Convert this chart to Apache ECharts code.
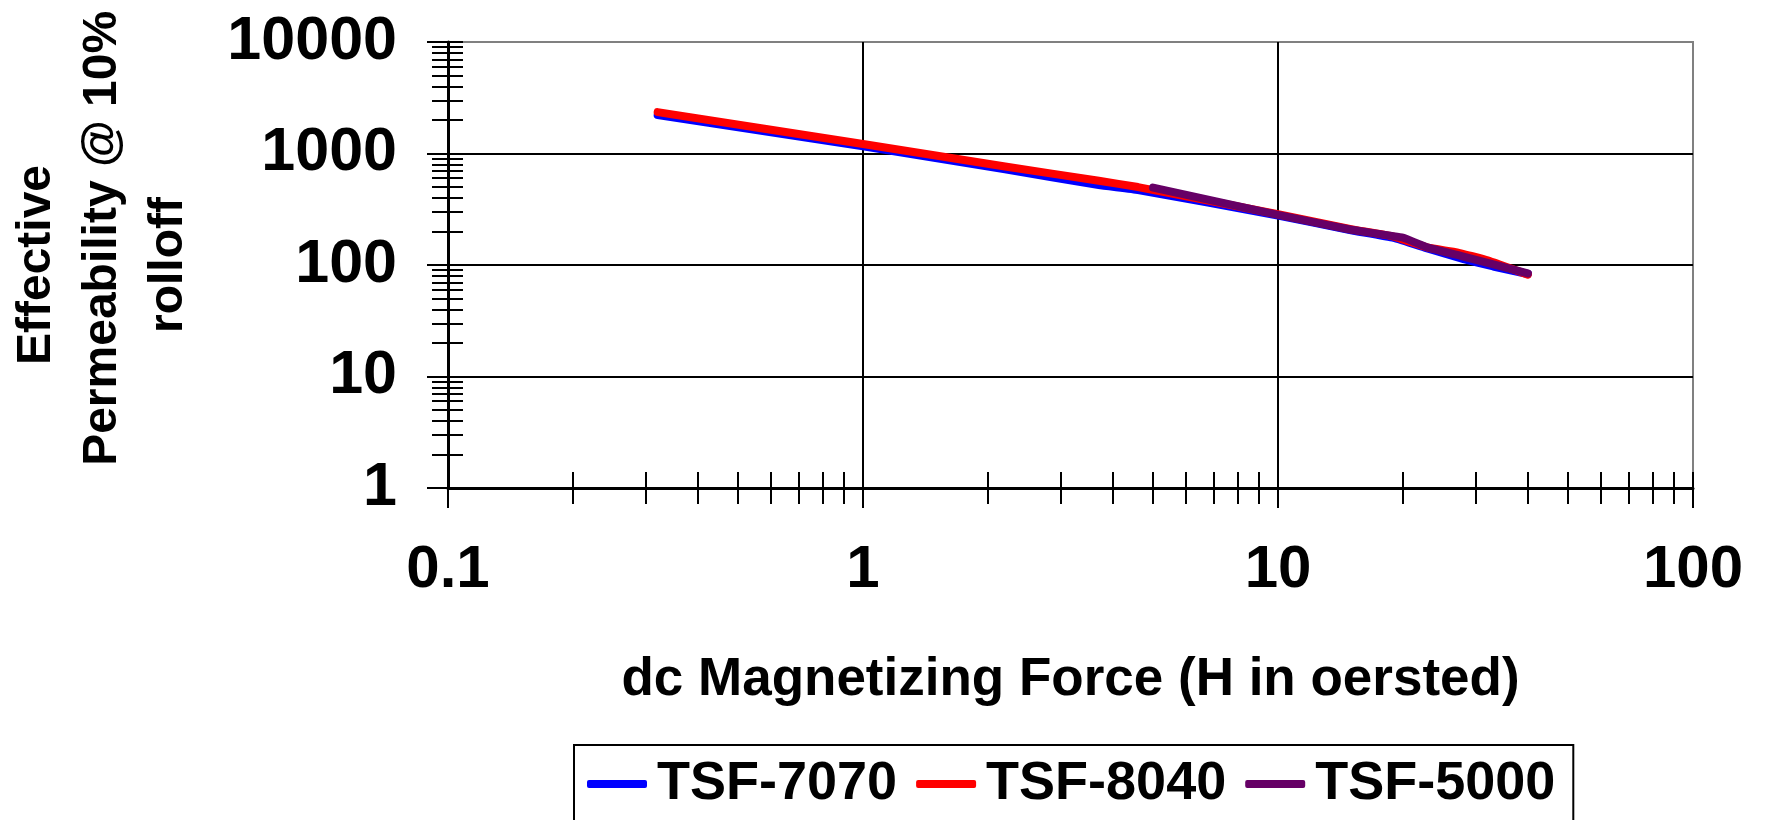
<!DOCTYPE html>
<html>
<head>
<meta charset="utf-8">
<title>Effective Permeability vs dc Magnetizing Force</title>
<script src="https://cdn.jsdelivr.net/npm/echarts@6/dist/echarts.min.js"></script>
<style>
  html, body { margin: 0; padding: 0; background: #fff; }
  #chart { width: 1766px; height: 820px; }
</style>
</head>
<body>
<div id="chart"></div>
<script>
// series data (H in oersted, effective permeability)
const seriesNames = ['TSF-7070', 'TSF-8040', 'TSF-5000']
const seriesColors = ['#0000ff', '#ff0000', '#660066']

const h7070 = [0.32, 1, 2.2, 3.7, 4.6, 10, 15, 19, 23, 28, 33, 40]
const mu7070 = [2210, 1160, 720, 520, 470, 278, 205, 175, 140, 113, 97, 83]

const h8040 = [0.32, 1, 2.2, 3.7, 4.6, 10, 15, 19, 23, 27, 32, 40]
const mu8040 = [2350, 1215, 765, 570, 500, 285, 210, 180, 143, 130, 110, 82]

const h5000 = [5, 10, 15, 20, 23, 28, 40]
const mu5000 = [495, 282, 207, 176, 143, 119, 84]

// axis ticks (majors + minors)
const xTicks = [0.1, 0.2, 0.3, 0.4, 0.5, 0.6, 0.7, 0.8, 0.9, 1, 2, 3, 4, 5, 6, 7, 8, 9,
  10, 20, 30, 40, 50, 60, 70, 80, 90, 100]
const yTicks = [1, 2, 3, 4, 5, 6, 7, 8, 9, 10, 20, 30, 40, 50, 60, 70, 80, 90,
  100, 200, 300, 400, 500, 600, 700, 800, 900, 1000, 2000, 3000, 4000, 5000, 6000,
  7000, 8000, 9000, 10000]

const FONT = 'Liberation Sans, Arial, sans-serif'

const zip = (xs, ys) => xs.map((x, i) => [x, ys[i]])
const allData = [zip(h7070, mu7070), zip(h8040, mu8040), zip(h5000, mu5000)]

const fmt = (v) => String(+Number(v).toPrecision(4))

// base log axis, reused for the tick-only copies
const logX = {
  type: 'log', logBase: 10, min: 0.1, max: 100, position: 'bottom', gridIndex: 0,
}
const logY = {
  type: 'log', logBase: 10, min: 1, max: 10000, position: 'left', gridIndex: 0,
}
const hidden = { show: false }

const myChart = echarts.init(document.getElementById('chart'))

const option = {
  animation: false,
  backgroundColor: '#ffffff',
  grid: {
    left: 448, right: 73, top: 42, bottom: 332,
    show: true, borderColor: '#808080', borderWidth: 2,
    containLabel: false, outerBoundsMode: 'none',
  },
  legend: {
    left: 574, top: 745,
    orient: 'horizontal',
    data: seriesNames.map((n, i) => ({ name: n, icon: 'roundRect', itemStyle: { color: seriesColors[i] } })),
    itemWidth: 60, itemHeight: 8, itemGap: 19,
    padding: [9, 18, 60, 13],
    borderColor: '#000', borderWidth: 2,
    textStyle: {
      fontFamily: FONT, fontWeight: 'bold', fontSize: 54, color: '#000',
      lineHeight: 60, padding: [0, 0, 0, 5],
    },
  },
  xAxis: [
    {
      ...logX,
      name: 'dc Magnetizing Force (H in oersted)',
      nameLocation: 'middle', nameGap: 162,
      nameTextStyle: { fontFamily: FONT, fontWeight: 'bold', fontSize: 53, color: '#000', lineHeight: 60 },
      axisLine: { show: true, lineStyle: { color: '#000', width: 3 } },
      axisTick: { show: true, inside: false, length: 20, lineStyle: { color: '#000', width: 2 } },
      axisLabel: {
        show: true, margin: 52, formatter: fmt,
        fontFamily: FONT, fontWeight: 'bold', fontSize: 60, color: '#000', lineHeight: 60,
      },
      splitLine: { show: true, showMinLine: false, showMaxLine: false, lineStyle: { color: '#000', width: 2 } },
    },
    {
      ...logX,
      axisLine: hidden, axisLabel: hidden, splitLine: hidden,
      axisTick: { show: true, inside: false, length: 16, customValues: xTicks, lineStyle: { color: '#000', width: 2 } },
    },
    {
      ...logX,
      axisLine: hidden, axisLabel: hidden, splitLine: hidden,
      axisTick: { show: true, inside: true, length: 16, customValues: xTicks, lineStyle: { color: '#000', width: 2 } },
    },
  ],
  yAxis: [
    {
      ...logY,
      name: 'Effective\n    Permeability @ 10%\nrolloff',
      nameLocation: 'middle', nameRotate: 90, nameGap: 246,
      nameTextStyle: {
        fontFamily: FONT, fontWeight: 'bold', fontSize: 48, color: '#000',
        lineHeight: 66, align: 'center',
      },
      axisLine: { show: true, lineStyle: { color: '#000', width: 3 } },
      axisTick: { show: true, inside: false, length: 21, lineStyle: { color: '#000', width: 2 } },
      axisLabel: {
        show: true, margin: 51, formatter: fmt,
        fontFamily: FONT, fontWeight: 'bold', fontSize: 61, color: '#000',
      },
      splitLine: { show: true, showMinLine: false, showMaxLine: false, lineStyle: { color: '#000', width: 2 } },
    },
    {
      ...logY,
      axisLine: hidden, axisLabel: hidden, splitLine: hidden,
      axisTick: { show: true, inside: false, length: 16, customValues: yTicks, lineStyle: { color: '#000', width: 2 } },
    },
    {
      ...logY,
      axisLine: hidden, axisLabel: hidden, splitLine: hidden,
      axisTick: { show: true, inside: true, length: 15, customValues: yTicks, lineStyle: { color: '#000', width: 2 } },
    },
  ],
  series: seriesNames.map((name, i) => ({
    name: name,
    type: 'line',
    xAxisIndex: 0,
    yAxisIndex: 0,
    data: allData[i],
    smooth: 0.1,
    showSymbol: false,
    symbol: 'none',
    color: seriesColors[i],
    lineStyle: { color: seriesColors[i], width: 8, cap: 'round', join: 'round' },
    z: 3 + i,
  })),
}

myChart.setOption(option)
</script>
</body>
</html>
